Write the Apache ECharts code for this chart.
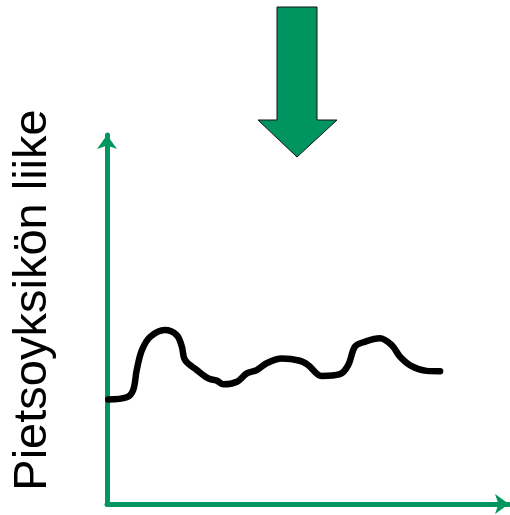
<!DOCTYPE html>
<html>
<head>
<meta charset="utf-8">
<style>
  html, body { margin: 0; padding: 0; background: #fff; }
  #chart { width: 510px; height: 515px; }
</style>
<script src="https://cdn.jsdelivr.net/npm/echarts@6/dist/echarts.min.js"></script>
</head>
<body>
<div id="chart"></div>
<script>
// Piezo unit displacement over time (arbitrary units)
var time = [0.3, 5.0, 6.6, 7.5, 8.8, 10.9, 14.6, 17.6, 18.9, 19.7, 22.7, 25.6, 27.7, 29.4,
            32.8, 35.3, 37.8, 40.3, 44.1, 48.7, 50.8, 54.2, 58.8, 60.9, 62.6, 64.7, 68.9,
            71.9, 74.0, 76.9, 80.7, 84.1];
var displacement = [28.9, 29.5, 31.5, 37.0, 42.5, 46.2, 48.1, 46.7, 43.5, 39.8, 37.0, 34.7,
                    34.1, 33.1, 33.8, 36.1, 37.0, 38.9, 40.2, 39.6, 38.4, 35.4, 35.9, 38.4,
                    43.5, 44.7, 45.8, 43.9, 40.7, 38.1, 36.8, 36.7];
var yLabel = 'Pietsoyksikön liike';

var green = '#00965F';
var points = time.map(function (t, i) { return [t, displacement[i]]; });

var chart = echarts.init(document.getElementById('chart'));
chart.setOption({
  animation: false,
  grid: { left: 107, right: 1, top: 135, bottom: 11, containLabel: false, outerBoundsMode: 'none' },
  xAxis: {
    type: 'value', min: 0, max: 101.5,
    axisLine: { show: true, lineStyle: { color: green, width: 5 },
                symbol: ['none', 'arrow'], symbolSize: [15, 14] },
    axisTick: { show: false }, axisLabel: { show: false }, splitLine: { show: false }
  },
  yAxis: {
    type: 'value', min: 0, max: 102,
    axisLine: { show: true, lineStyle: { color: green, width: 5 },
                symbol: ['none', 'arrow'], symbolSize: [15, 14] },
    axisTick: { show: false }, axisLabel: { show: false }, splitLine: { show: false }
  },
  graphic: [
    {
      // downward arrow above the plot
      type: 'polygon',
      shape: { points: [[277, 7], [317, 7], [317, 120], [337, 120], [297, 157], [258, 120], [277, 120]] },
      style: { fill: '#009460', stroke: '#111', lineWidth: 1 }
    },
    {
      // vertical axis title
      type: 'text',
      x: 33, y: 300,
      rotation: Math.PI / 2,
      style: {
        text: yLabel,
        font: '47px "Liberation Sans", Arial, sans-serif',
        fill: '#000',
        align: 'center',
        verticalAlign: 'middle'
      }
    }
  ],
  series: [{
    type: 'line',
    data: points,
    smooth: 0.35,
    showSymbol: false,
    lineStyle: { color: '#000', width: 6.5, cap: 'round', join: 'round' }
  }]
});
</script>
</body>
</html>
